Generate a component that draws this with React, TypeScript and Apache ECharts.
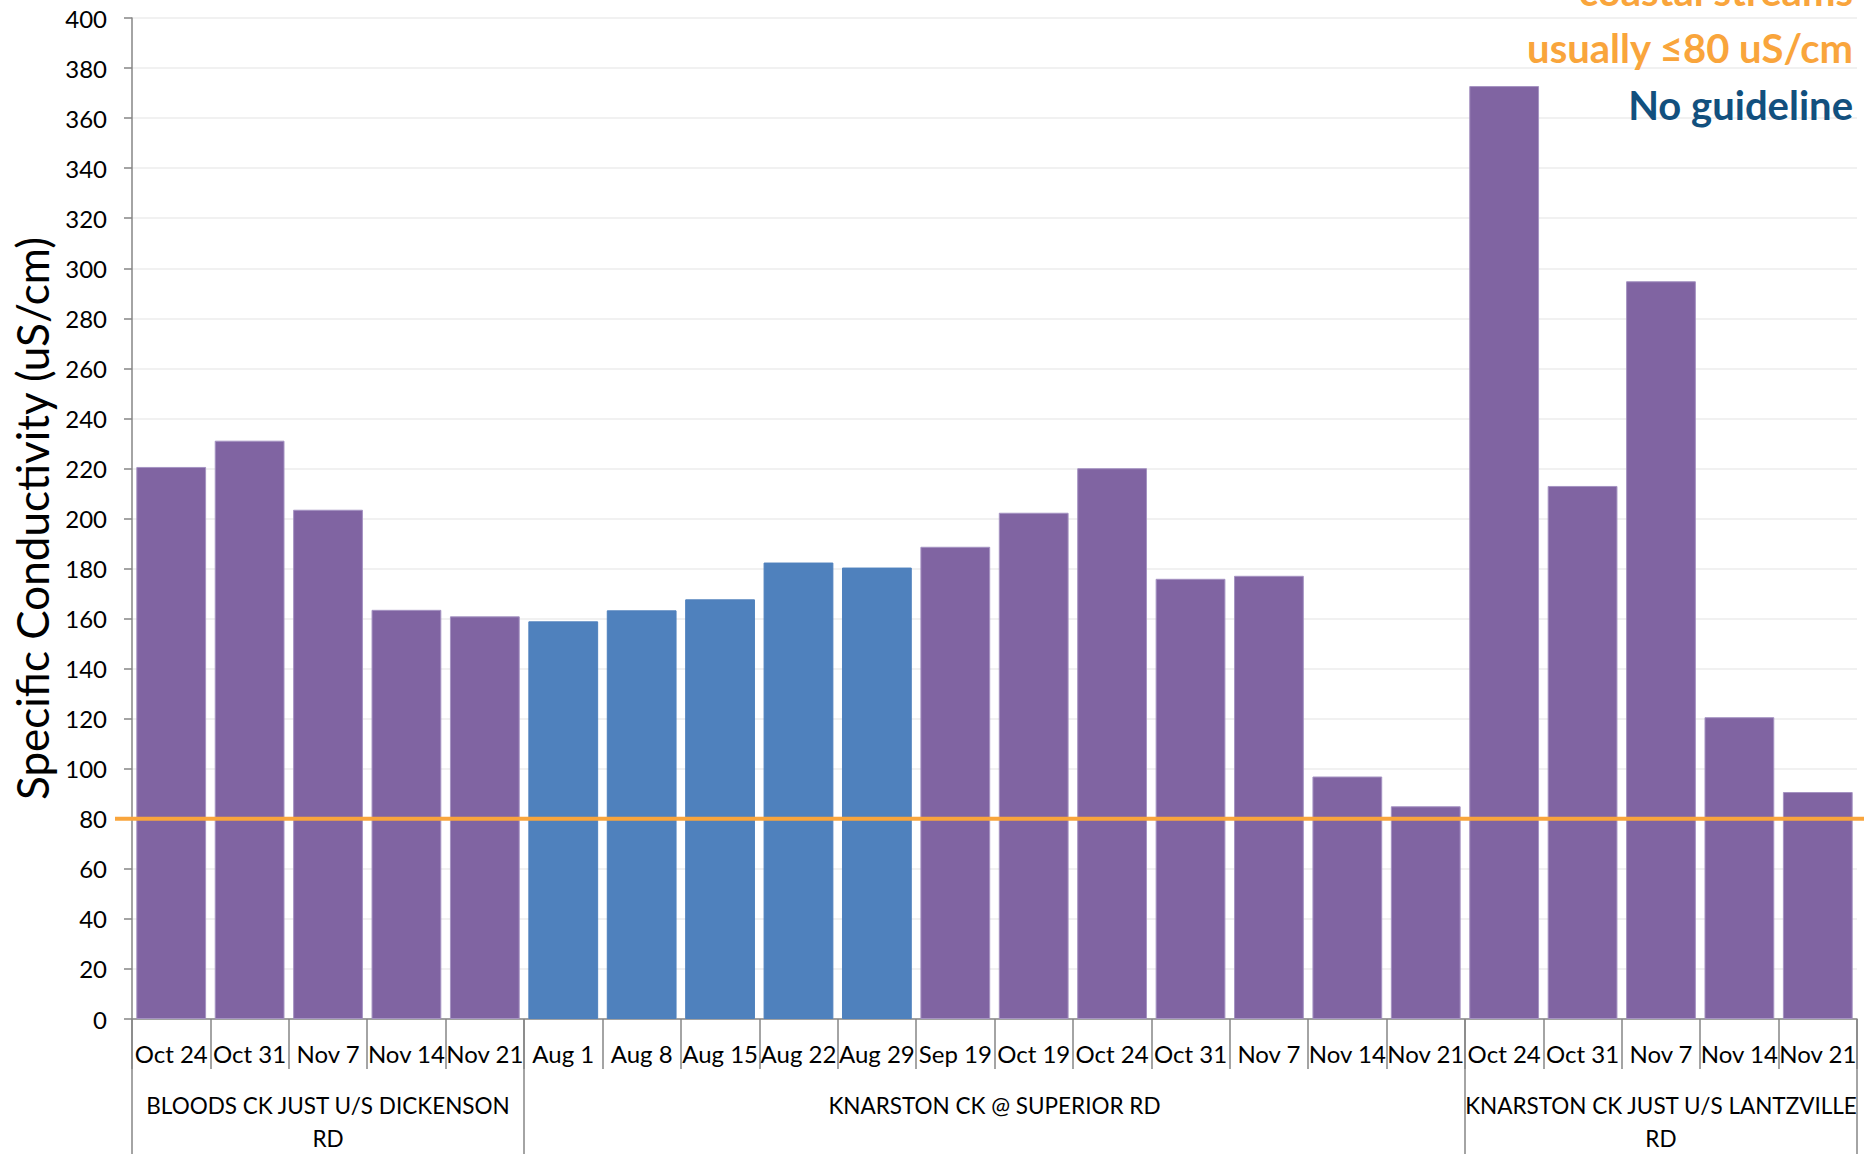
import React, { useEffect, useRef } from "react";
import * as echarts from "echarts";

const categories = [
  "Oct 24", "Oct 31", "Nov 7", "Nov 14", "Nov 21",
  "Aug 1", "Aug 8", "Aug 15", "Aug 22", "Aug 29", "Sep 19", "Oct 19", "Oct 24", "Oct 31", "Nov 7", "Nov 14", "Nov 21",
  "Oct 24", "Oct 31", "Nov 7", "Nov 14", "Nov 21",
];
const conductivity = [
  220.6, 231.1, 203.5, 163.5, 160.9,
  158.9, 163.3, 167.7, 182.4, 180.4, 188.7, 202.3, 220.1, 175.9, 177.1, 96.9, 85.0,
  372.8, 213.0, 294.8, 120.6, 90.7,
];
const blueIndices = [5, 6, 7, 8, 9];
const groupNames = [
  "BLOODS CK JUST U/S DICKENSON\nRD",
  "KNARSTON CK @ SUPERIOR RD",
  "KNARSTON CK JUST U/S LANTZVILLE\nRD",
];
const groupSizes = [5, 12, 5];
const yTicks = { min: 0, max: 400, interval: 20 };
const guidelineValue = 80;
const noteLines = ["coastal streams", "usually \u226480 uS/cm", "No guideline"];

const PURPLE = "#8064A2";
const BLUE = "#4F81BD";
const ORANGE = "#F9A53C";
const NAVY = "#12507E";
const FONT = "Lato";

export default function App() {
  const ref = useRef<HTMLDivElement>(null);

  useEffect(() => {
    document.body.style.margin = "0";
    const chart = echarts.init(ref.current!, null, { renderer: "svg" });

    const boundaries: number[] = [0];
    const centers: number[] = [];
    groupSizes.forEach((s) => {
      const start = boundaries[boundaries.length - 1];
      centers.push(start + s / 2);
      boundaries.push(start + s);
    });

    const data = conductivity.map((v, i) => {
      const blue = blueIndices.includes(i);
      return {
        value: v,
        itemStyle: {
          color: blue ? BLUE : PURPLE,
          borderColor: blue ? BLUE : "#A593C2",
          borderWidth: 1,
        },
      };
    });

    chart.setOption({
      animation: false,
      backgroundColor: "#ffffff",
      grid: { left: 132, right: 7, top: 18, bottom: 135, containLabel: false },
      xAxis: [
        {
          type: "category",
          data: categories,
          position: "bottom",
          axisLine: { show: true, lineStyle: { color: "#868686", width: 1.5 } },
          axisTick: { show: true, length: 50, alignWithLabel: false, interval: 0, lineStyle: { color: "#868686", width: 1.5 } },
          axisLabel: {
            interval: 0,
            margin: 20,
            color: "#000",
            fontFamily: FONT,
            fontSize: 24,
            lineHeight: 28,
          },
          splitLine: { show: false },
        },
        {
          type: "value",
          min: 0,
          max: categories.length,
          position: "bottom",
          axisLine: { show: false },
          axisTick: {
            show: true,
            length: 135,
            customValues: boundaries,
            lineStyle: { color: "#868686", width: 1.5 },
          },
          axisLabel: {
            show: true,
            customValues: centers,
            margin: 70,
            color: "#000",
            fontFamily: FONT,
            fontSize: 22.5,
            lineHeight: 33,
            align: "center",
            formatter: (v: number) => {
              const idx = centers.findIndex((c) => Math.abs(c - v) < 1e-6);
              return idx >= 0 ? groupNames[idx] : "";
            },
          },
          splitLine: { show: false },
        },
      ],
      yAxis: {
        type: "value",
        min: yTicks.min,
        max: yTicks.max,
        interval: yTicks.interval,
        name: "Specific Conductivity (uS/cm)",
        nameLocation: "middle",
        nameGap: 77,
        nameTextStyle: { fontFamily: FONT, fontSize: 44, color: "#000" },
        axisLine: { show: true, lineStyle: { color: "#868686", width: 1.5 } },
        axisTick: { show: true, length: 8, lineStyle: { color: "#868686", width: 1.5 } },
        axisLabel: { margin: 25, color: "#000", fontFamily: FONT, fontSize: 24 },
        splitLine: { show: true, lineStyle: { color: "#ECECEC", width: 1.5 } },
      },
      series: [
        {
          type: "bar",
          data,
          xAxisIndex: 0,
          yAxisIndex: 0,
          barCategoryGap: "11%",
        },
      ],
    });

    const yLine = chart.convertToPixel({ yAxisIndex: 0 }, guidelineValue) as number;
    const noteY = [-9, 47.5, 104.5];
    chart.setOption({
      graphic: [
        {
          type: "line",
          z: 100,
          shape: { x1: 115, y1: yLine, x2: 1864, y2: yLine },
          style: { stroke: ORANGE, lineWidth: 4 },
        },
        ...noteLines.map((t, i) => ({
          type: "text",
          z: 100,
          x: 1853,
          y: noteY[i],
          style: {
            text: t,
            align: "right",
            verticalAlign: "middle",
            fontFamily: FONT,
            fontWeight: "bold",
            fontSize: 40,
            fill: i < 2 ? ORANGE : NAVY,
          },
        })),
      ],
    });

    return () => chart.dispose();
  }, []);

  return (
    <div
      ref={ref}
      style={{ position: "fixed", left: 0, top: 0, width: 1864, height: 1155, overflow: "hidden" }}
    />
  );
}
